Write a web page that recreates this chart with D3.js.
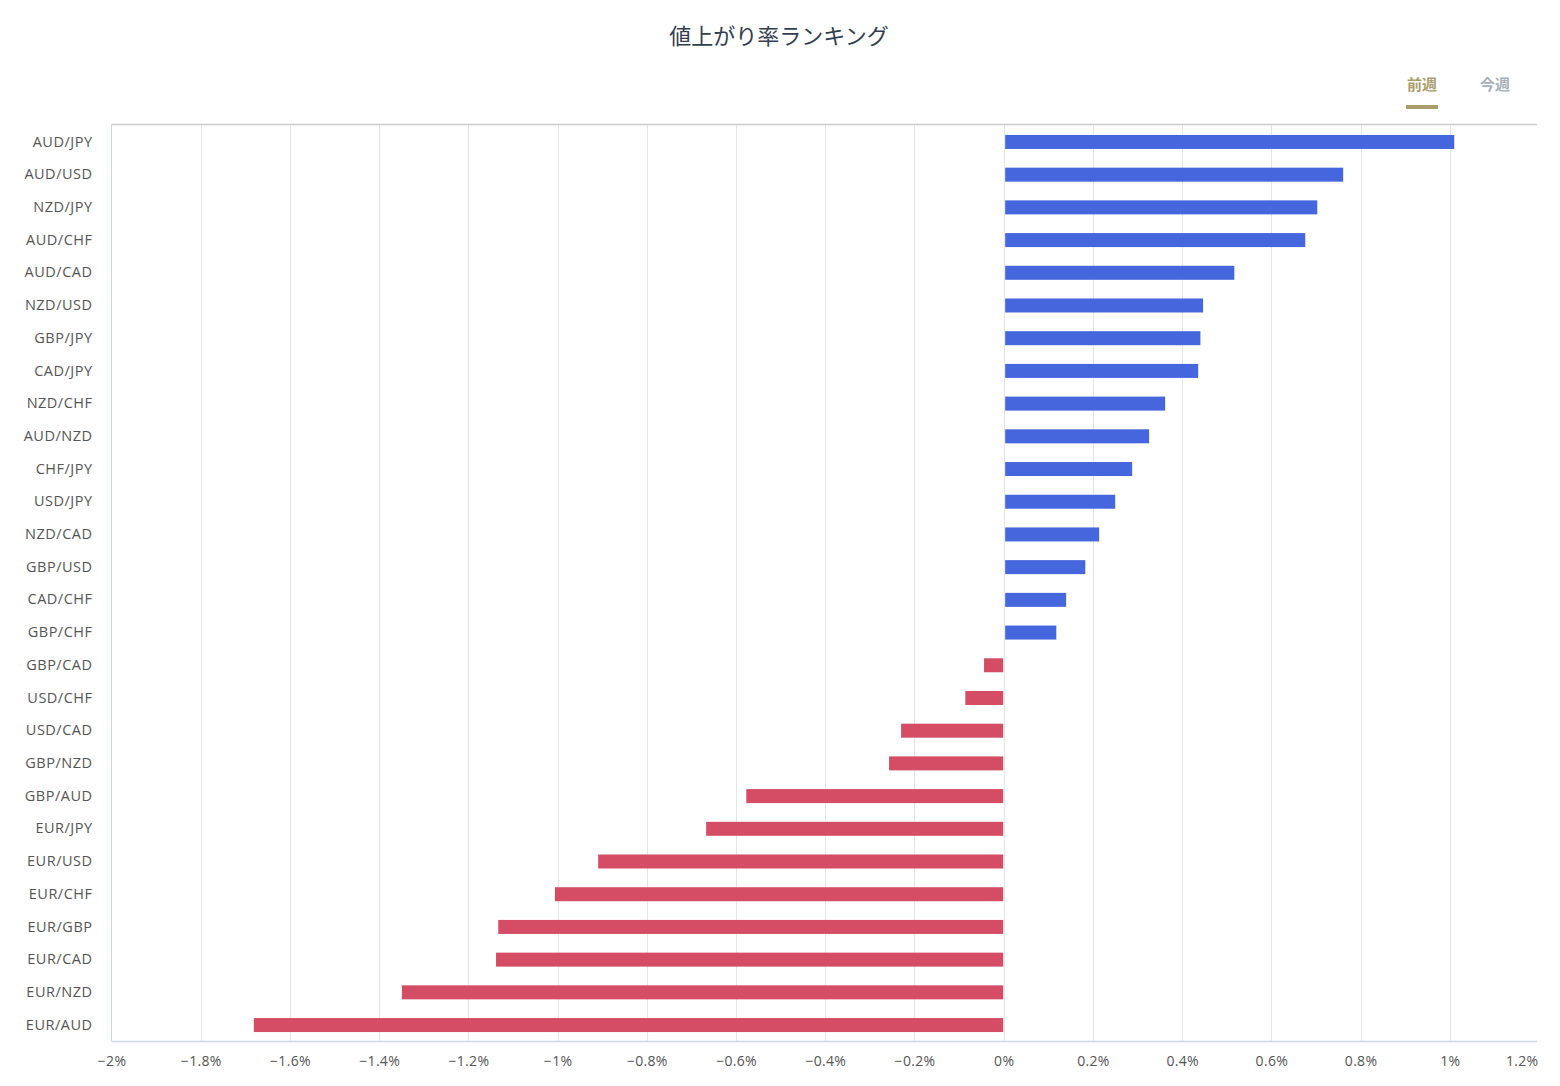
<!DOCTYPE html>
<html><head><meta charset="utf-8">
<script src="https://cdn.jsdelivr.net/npm/d3@7"></script>
<style>
html,body{margin:0;padding:0;background:#fff;}
svg{display:block;font-family:"Noto Sans CJK JP","Noto Sans",sans-serif;}
</style></head>
<body>
<svg id="chart" width="1560" height="1086"></svg>
<script>
const categories = ["AUD/JPY","AUD/USD","NZD/JPY","AUD/CHF","AUD/CAD","NZD/USD","GBP/JPY","CAD/JPY","NZD/CHF","AUD/NZD","CHF/JPY","USD/JPY","NZD/CAD","GBP/USD","CAD/CHF","GBP/CHF","GBP/CAD","USD/CHF","USD/CAD","GBP/NZD","GBP/AUD","EUR/JPY","EUR/USD","EUR/CHF","EUR/GBP","EUR/CAD","EUR/NZD","EUR/AUD"];
const values = [1.010,0.761,0.703,0.676,0.517,0.447,0.441,0.436,0.362,0.326,0.288,0.250,0.214,0.183,0.140,0.118,-0.044,-0.086,-0.230,-0.257,-0.577,-0.667,-0.909,-1.006,-1.133,-1.138,-1.349,-1.681];
const xTicks = [-2,-1.8,-1.6,-1.4,-1.2,-1,-0.8,-0.6,-0.4,-0.2,0,0.2,0.4,0.6,0.8,1,1.2];
const title = "値上がり率ランキング";
const tabs = ["前週","今週"];

const svg = d3.select("#chart");
const L = 111.5, R = 1539, T = 124, B = 1041, Rb = 1537;
const x = d3.scaleLinear().domain([-2, 1.2]).range([L, R]);
const y = d3.scaleBand().domain(categories).range([125.6, 1041.4]).paddingInner(0.572).paddingOuter(0.286);

const latin = "\"Open Sans\",\"Noto Sans\",sans-serif";

// title
svg.append("text").attr("x", 779).attr("y", 44).attr("text-anchor", "middle")
  .attr("font-size", 22).attr("fill", "#333e50").text(title);

// tabs
const tabX = [1422, 1495];
tabs.forEach((t, i) => {
  svg.append("text").attr("x", tabX[i]).attr("y", 90).attr("text-anchor", "middle")
    .attr("font-size", 15).attr("font-weight", "bold")
    .attr("fill", i === 0 ? "#ab9d6c" : "#a6b0ba").text(t);
});
svg.append("rect").attr("x", 1406).attr("y", 105).attr("width", 32).attr("height", 4).attr("fill", "#ab9d6c");

// grid
svg.append("g").selectAll("line").data(xTicks.slice(1, -1)).join("line")
  .attr("x1", d => Math.round(x(d)) + 0.5).attr("x2", d => Math.round(x(d)) + 0.5).attr("y1", T).attr("y2", B)
  .attr("stroke", "#e6e6e6").attr("stroke-width", 1);

// top border
svg.append("line").attr("x1", L).attr("x2", Rb).attr("y1", T + 0.5).attr("y2", T + 0.5)
  .attr("stroke", "#cccccc").attr("stroke-width", 1.5);

// bars
svg.append("g").selectAll("rect").data(values).join("rect")
  .attr("x", d => d >= 0 ? x(0) + 1.5 : x(d))
  .attr("width", d => d >= 0 ? x(d) - x(0) - 1.5 : x(0) - x(d) - 0.5)
  .attr("y", (d, i) => y(categories[i]))
  .attr("height", y.bandwidth())
  .attr("fill", d => d >= 0 ? "#4566dc" : "#d44d65");

// axes lines
svg.append("line").attr("x1", L).attr("x2", L).attr("y1", T).attr("y2", B)
  .attr("stroke", "#ccd6eb").attr("stroke-width", 1);
svg.append("line").attr("x1", L).attr("x2", Rb).attr("y1", B + 0.5).attr("y2", B + 0.5)
  .attr("stroke", "#ccd6eb").attr("stroke-width", 1.5);

// y labels
const yAxis = d3.axisLeft(y).tickSize(0).tickPadding(19);
const gy = svg.append("g").attr("transform", `translate(${L},0)`).call(yAxis);
gy.select(".domain").remove();
gy.selectAll("text").attr("font-size", 14.5).attr("fill", "#555555")
  .attr("letter-spacing", 0.5).attr("font-family", latin);

// x labels
const fmt = d => (d < 0 ? "\u2212" : "") + Math.abs(+d.toFixed(1)) + "%";
const xAxis = d3.axisBottom(x).tickValues(xTicks).tickSize(0).tickPadding(15).tickFormat(fmt);
const gx = svg.append("g").attr("transform", `translate(0,${B})`).call(xAxis);
gx.select(".domain").remove();
gx.selectAll("text").attr("font-size", 14).attr("fill", "#555555")
  .attr("letter-spacing", 0.3).attr("font-family", latin);
gx.selectAll(".tick").filter(d => d === 1.2).select("text").attr("text-anchor", "end").attr("dx", 0).attr("x", 0)
  .attr("transform", `translate(${Rb + 1 - x(1.2)},0)`);
</script>
</body></html>
